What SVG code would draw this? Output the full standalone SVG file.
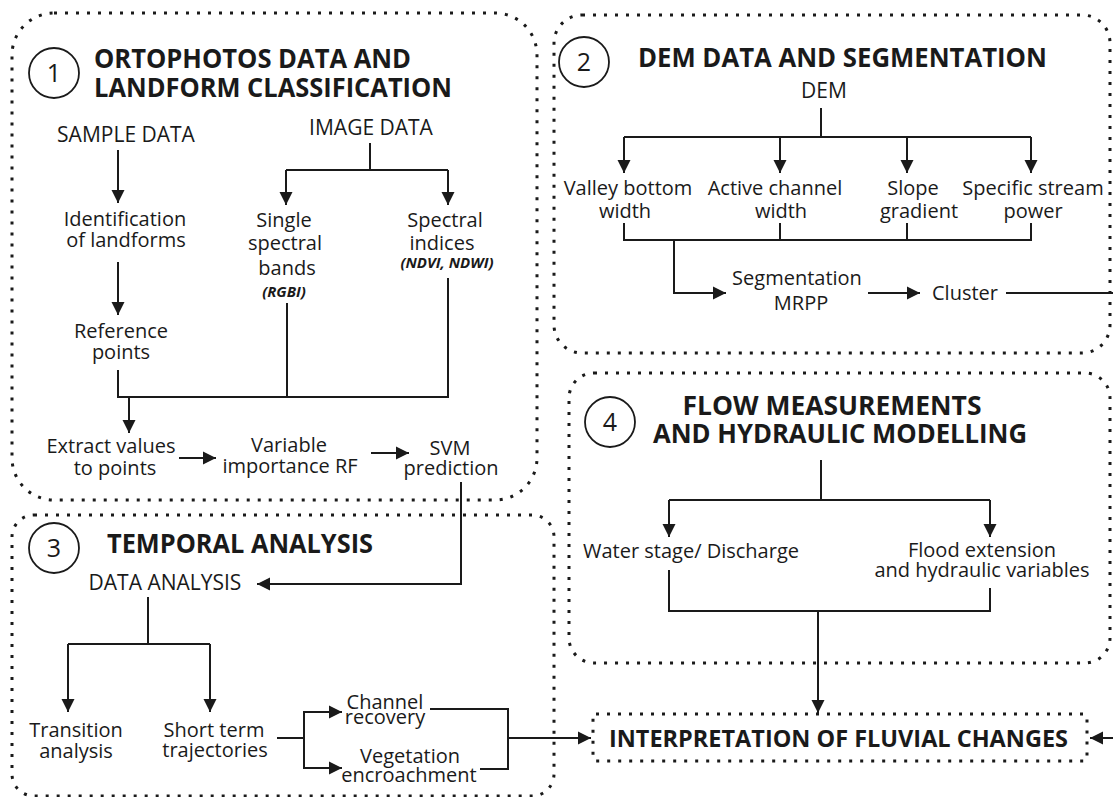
<svg xmlns="http://www.w3.org/2000/svg" width="1113" height="797" viewBox="0 0 1113 797">
<style>
  .panel { fill: none; stroke: #1a1a1a; stroke-width: 3; stroke-dasharray: 3 8; }
  .t { font-family: "Open Sans", "Noto Sans", "Liberation Sans", sans-serif; font-size: 20px; fill: #1a1a1a; text-anchor: middle; }
  .big { font-size: 21px; }
  .title { font-family: "Open Sans", "Noto Sans", "Liberation Sans", sans-serif; font-size: 27px; font-weight: bold; fill: #1a1a1a; }
  .sub { font-family: "Open Sans", "Noto Sans", "Liberation Sans", sans-serif; font-size: 15px; font-weight: bold; font-style: italic; fill: #1a1a1a; text-anchor: middle; }
  .num { font-family: "Open Sans", "Noto Sans", "Liberation Sans", sans-serif; font-size: 25px; fill: #1a1a1a; text-anchor: middle; }
  .circ { fill: none; stroke: #1a1a1a; stroke-width: 1.8; }
  .ln { fill: none; stroke: #1a1a1a; stroke-width: 2; }
  .ar { fill: none; stroke: #1a1a1a; stroke-width: 2; marker-end: url(#ah); }
</style>
<defs>
  <marker id="ah" viewBox="0 0 14 14" refX="13" refY="7" markerWidth="14" markerHeight="14" markerUnits="userSpaceOnUse" orient="auto">
    <path d="M0,0.5 L13,7 L0,13.5 z" fill="#1a1a1a"/>
  </marker>
</defs>
<rect width="1113" height="797" fill="#ffffff"/>

<g id="panel1">
  <rect class="panel" x="12" y="13" width="525" height="487" rx="42"/>
  <circle class="circ" cx="54" cy="73" r="25"/>
  <text class="num" x="54" y="82">1</text>
  <text class="title" x="94" y="68" textLength="317" lengthAdjust="spacingAndGlyphs">ORTOPHOTOS DATA AND</text>
  <text class="title" x="94" y="97" textLength="358" lengthAdjust="spacingAndGlyphs">LANDFORM CLASSIFICATION</text>
</g>
<g id="sample-data"><text class="t big" x="126" y="142">SAMPLE DATA</text></g>
<g id="image-data"><text class="t big" x="371" y="135">IMAGE DATA</text></g>
<g id="identification"><text class="t" x="125" y="226">Identification</text><text class="t" x="126" y="247">of landforms</text></g>
<g id="single-bands"><text class="t" x="284" y="227">Single</text><text class="t" x="285" y="250">spectral</text><text class="t" x="287" y="275">bands</text><text class="sub" x="284" y="297">(RGBI)</text></g>
<g id="spectral-indices"><text class="t" x="445" y="227">Spectral</text><text class="t" x="442" y="250">indices</text><text class="sub" x="447" y="268">(NDVI, NDWI)</text></g>
<g id="reference-points"><text class="t" x="121" y="338">Reference</text><text class="t" x="121" y="359">points</text></g>
<g id="extract-values"><text class="t" x="111" y="453">Extract values</text><text class="t" x="115" y="475">to points</text></g>
<g id="variable-importance"><text class="t" x="289" y="452">Variable</text><text class="t" x="290" y="473">importance RF</text></g>
<g id="svm-prediction"><text class="t" x="450" y="455">SVM</text><text class="t" x="451" y="475">prediction</text></g>

<g id="panel2">
  <rect class="panel" x="554" y="15" width="556" height="338" rx="28"/>
  <circle class="circ" cx="584" cy="62" r="25"/>
  <text class="num" x="584" y="71">2</text>
  <text class="title" x="638" y="67" textLength="409" lengthAdjust="spacingAndGlyphs">DEM DATA AND SEGMENTATION</text>
</g>
<g id="dem"><text class="t big" x="824" y="98">DEM</text></g>
<g id="valley-bottom"><text class="t" x="628" y="195">Valley bottom</text><text class="t" x="625" y="218">width</text></g>
<g id="active-channel"><text class="t" x="775" y="195">Active channel</text><text class="t" x="781" y="218">width</text></g>
<g id="slope-gradient"><text class="t" x="913" y="195">Slope</text><text class="t" x="919" y="218">gradient</text></g>
<g id="stream-power"><text class="t" x="1033" y="195">Specific stream</text><text class="t" x="1033" y="218">power</text></g>
<g id="segmentation"><text class="t" x="797" y="285">Segmentation</text><text class="t" x="801" y="310">MRPP</text></g>
<g id="cluster"><text class="t" x="965" y="300">Cluster</text></g>

<g id="panel3">
  <rect class="panel" x="12" y="515" width="542" height="281" rx="22"/>
  <circle class="circ" cx="54" cy="548" r="25"/>
  <text class="num" x="54" y="557">3</text>
  <text class="title" x="107" y="553" textLength="266" lengthAdjust="spacingAndGlyphs">TEMPORAL ANALYSIS</text>
</g>
<g id="data-analysis"><text class="t big" x="165" y="590">DATA ANALYSIS</text></g>
<g id="transition"><text class="t" x="76" y="737">Transition</text><text class="t" x="76" y="758">analysis</text></g>
<g id="short-term"><text class="t" x="214" y="737">Short term</text><text class="t" x="215" y="757">trajectories</text></g>
<g id="channel-recovery"><text class="t" x="385" y="709">Channel</text><text class="t" x="385" y="724">recovery</text></g>
<g id="vegetation"><text class="t" x="410" y="763">Vegetation</text><text class="t" x="409" y="782">encroachment</text></g>

<g id="panel4">
  <rect class="panel" x="569" y="373" width="541" height="290" rx="25"/>
  <circle class="circ" cx="610" cy="422" r="25"/>
  <text class="num" x="610" y="431">4</text>
  <text class="title" x="832" y="415" text-anchor="middle" textLength="299" lengthAdjust="spacingAndGlyphs">FLOW MEASUREMENTS</text>
  <text class="title" x="840" y="443" text-anchor="middle" textLength="374" lengthAdjust="spacingAndGlyphs">AND HYDRAULIC MODELLING</text>
</g>
<g id="water-stage"><text class="t" x="691" y="558">Water stage/ Discharge</text></g>
<g id="flood-extension"><text class="t" x="982" y="557">Flood extension</text><text class="t" x="982" y="577">and hydraulic variables</text></g>

<g id="interpretation">
  <rect class="panel" x="593" y="714" width="494" height="47" rx="3"/>
  <text class="title" x="609" y="747" style="font-size:23px" textLength="459" lengthAdjust="spacingAndGlyphs">INTERPRETATION OF FLUVIAL CHANGES</text>
</g>

<g id="connectors">
  <path class="ar" d="M118,150 V203"/>
  <path class="ln" d="M370,143 V170 M286,170 H448"/>
  <path class="ar" d="M286,170 V205"/>
  <path class="ar" d="M448,170 V205"/>
  <path class="ar" d="M118,262 V315"/>
  <path class="ln" d="M118,370 V397 H448 V278 M287,303 V397"/>
  <path class="ar" d="M129,397 V433"/>
  <path class="ar" d="M179,458 H216"/>
  <path class="ar" d="M371,453 H409"/>
  <path class="ar" d="M461,482 V584 H257"/>

  <path class="ln" d="M148,597 V644 M68,644 H210"/>
  <path class="ar" d="M68,644 V712"/>
  <path class="ar" d="M210,644 V712"/>
  <path class="ln" d="M277,738 H304"/>
  <path class="ar" d="M304,738 V712 H342"/>
  <path class="ar" d="M304,738 V768 H342"/>
  <path class="ln" d="M430,709 H508 V769 H480"/>
  <path class="ar" d="M508,738 H591"/>

  <path class="ln" d="M821,108 V137 M624,137 H1031"/>
  <path class="ar" d="M624,137 V173"/>
  <path class="ar" d="M780,137 V173"/>
  <path class="ar" d="M907,137 V173"/>
  <path class="ar" d="M1031,137 V173"/>
  <path class="ln" d="M624,223 V240 H1031 V223 M780,223 V240 M907,223 V240"/>
  <path class="ar" d="M674,240 V293 H726"/>
  <path class="ar" d="M868,293 H920"/>
  <path class="ln" d="M1006,293 H1113"/>

  <path class="ln" d="M821,460 V500 M669,500 H990"/>
  <path class="ar" d="M669,500 V537"/>
  <path class="ar" d="M990,500 V537"/>
  <path class="ln" d="M669,570 V611 H990 V588"/>
  <path class="ar" d="M818,611 V713"/>
  <path class="ar" d="M1113,738 H1090"/>
</g>
</svg>
